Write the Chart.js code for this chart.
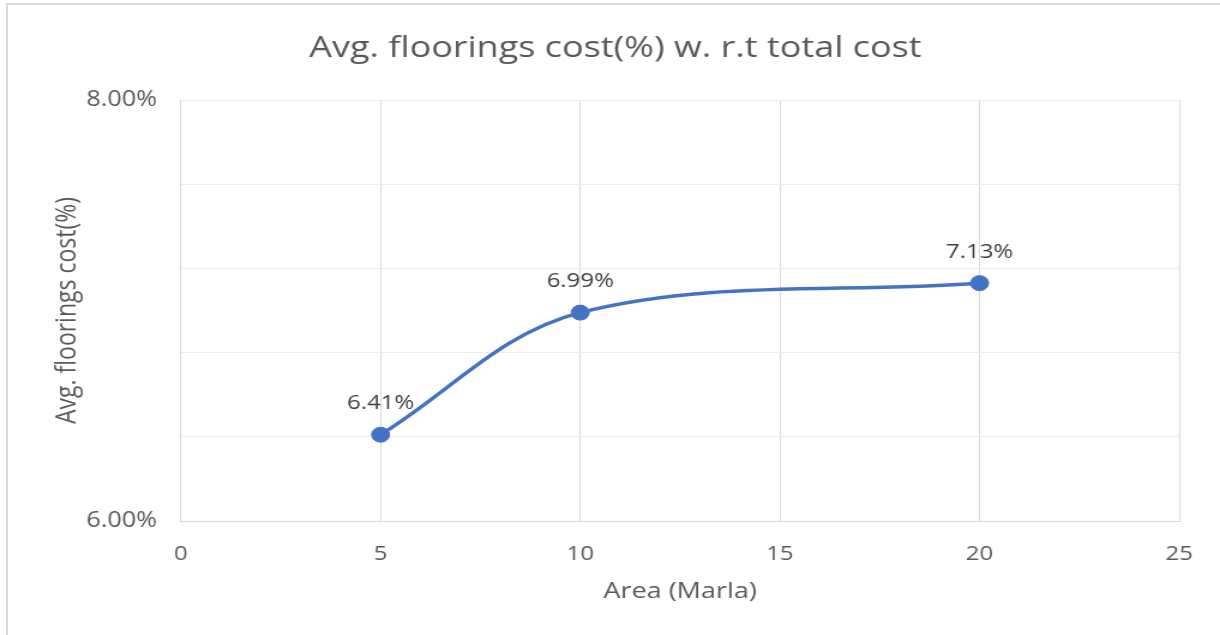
<!DOCTYPE html>
<html>
<head>
<meta charset="utf-8">
<title>Avg. floorings cost(%) w. r.t total cost</title>
<script src="https://cdn.jsdelivr.net/npm/chart.js@4.4.1/dist/chart.umd.min.js"></script>
<style>
  html, body { margin: 0; padding: 0; background: #ffffff; }
  body { width: 1220px; height: 635px; position: relative; overflow: hidden; }
  #frame {
    position: absolute; left: 6px; top: 3px; right: 0; bottom: 0;
    border-top: 2px solid #d9d9d9; border-left: 2px solid #d9d9d9;
  }
  #wrap {
    position: absolute; left: 0; top: 0; width: 1017px; height: 635px;
    transform-origin: 0 0; transform: scaleX(1.19961);
  }
</style>
</head>
<body>
<div id="wrap"><canvas id="chart" width="1017" height="635"></canvas></div>
<div id="frame"></div>
<script>
// Plot size in Marla and the average flooring share of total cost (%)
const areaMarla = [5, 10, 20];
const flooringCostPct = [6.41, 6.99, 7.13];

// Axis ranges and the y values that carry a label
const xTicks = [0, 5, 10, 15, 20, 25];
const yRange = [6, 8];
const yLabeledTicks = [6, 8];

const chartTitle = 'Avg. floorings cost(%) w. r.t total cost';
const xAxisTitle = 'Area (Marla)';
const yAxisTitle = 'Avg. floorings cost(%)';

const points = areaMarla.map((x, i) => ({ x: x, y: flooringCostPct[i] }));

// Writes each point's value above its marker
const valueLabels = {
  id: 'valueLabels',
  afterDatasetsDraw(chart) {
    const ctx = chart.ctx;
    const meta = chart.getDatasetMeta(0);
    ctx.save();
    ctx.font = '20px "Open Sans"';
    ctx.fillStyle = '#404040';
    ctx.textAlign = 'center';
    ctx.textBaseline = 'middle';
    meta.data.forEach((pt, i) => {
      ctx.fillText(flooringCostPct[i].toFixed(2) + '%', pt.x, pt.y - 31);
    });
    ctx.restore();
  }
};

new Chart(document.getElementById('chart'), {
  type: 'line',
  data: {
    datasets: [{
      data: points,
      borderColor: '#4472C4',
      backgroundColor: '#4472C4',
      borderWidth: 3.5,
      tension: 0.35,
      pointRadius: 7.5,
      pointBorderWidth: 1,
      pointBorderColor: '#4472C4',
      pointBackgroundColor: '#4472C4',
      clip: false
    }]
  },
  options: {
    responsive: false,
    animation: false,
    events: [],
    layout: { padding: { left: 43, right: 34, top: 0, bottom: 30 } },
    plugins: {
      legend: { display: false },
      tooltip: { enabled: false },
      title: {
        display: true,
        text: chartTitle,
        color: '#595959',
        font: { family: '"Open Sans"', size: 30, weight: 'normal', lineHeight: 1.2 },
        padding: { top: 30, bottom: 34 }
      }
    },
    scales: {
      x: {
        type: 'linear',
        min: xTicks[0],
        max: xTicks[xTicks.length - 1],
        afterBuildTicks(scale) { scale.ticks = xTicks.map(v => ({ value: v })); },
        afterFit(scale) { scale.height = 84; },
        grid: { color: '#d9d9d9', lineWidth: 1, drawTicks: false },
        border: { display: true, color: '#d9d9d9', width: 1 },
        ticks: {
          color: '#595959',
          padding: 21,
          maxRotation: 0,
          font: { family: '"Open Sans"', size: 20 }
        },
        title: {
          display: true,
          text: xAxisTitle,
          color: '#595959',
          padding: 0,
          font: { family: '"Open Sans"', size: 22.5, lineHeight: 1.2 }
        }
      },
      y: {
        type: 'linear',
        min: yRange[0],
        max: yRange[1],
        afterFit(scale) { scale.width = 150.8 - 43; },
        grid: { color: '#ededed', lineWidth: 1, drawTicks: false },
        border: { display: true, color: '#d9d9d9', width: 1 },
        ticks: {
          stepSize: 0.4,
          color: '#595959',
          padding: 20,
          font: { family: '"Open Sans"', size: 21 },
          callback(value) {
            const labeled = yLabeledTicks.some(v => Math.abs(v - value) < 1e-6);
            return labeled ? value.toFixed(2) + '%' : '';
          }
        },
        title: {
          display: true,
          text: yAxisTitle,
          color: '#595959',
          padding: 0,
          font: { family: '"Open Sans"', size: 23, lineHeight: 1.2 }
        }
      }
    }
  },
  plugins: [valueLabels]
});
</script>
</body>
</html>
